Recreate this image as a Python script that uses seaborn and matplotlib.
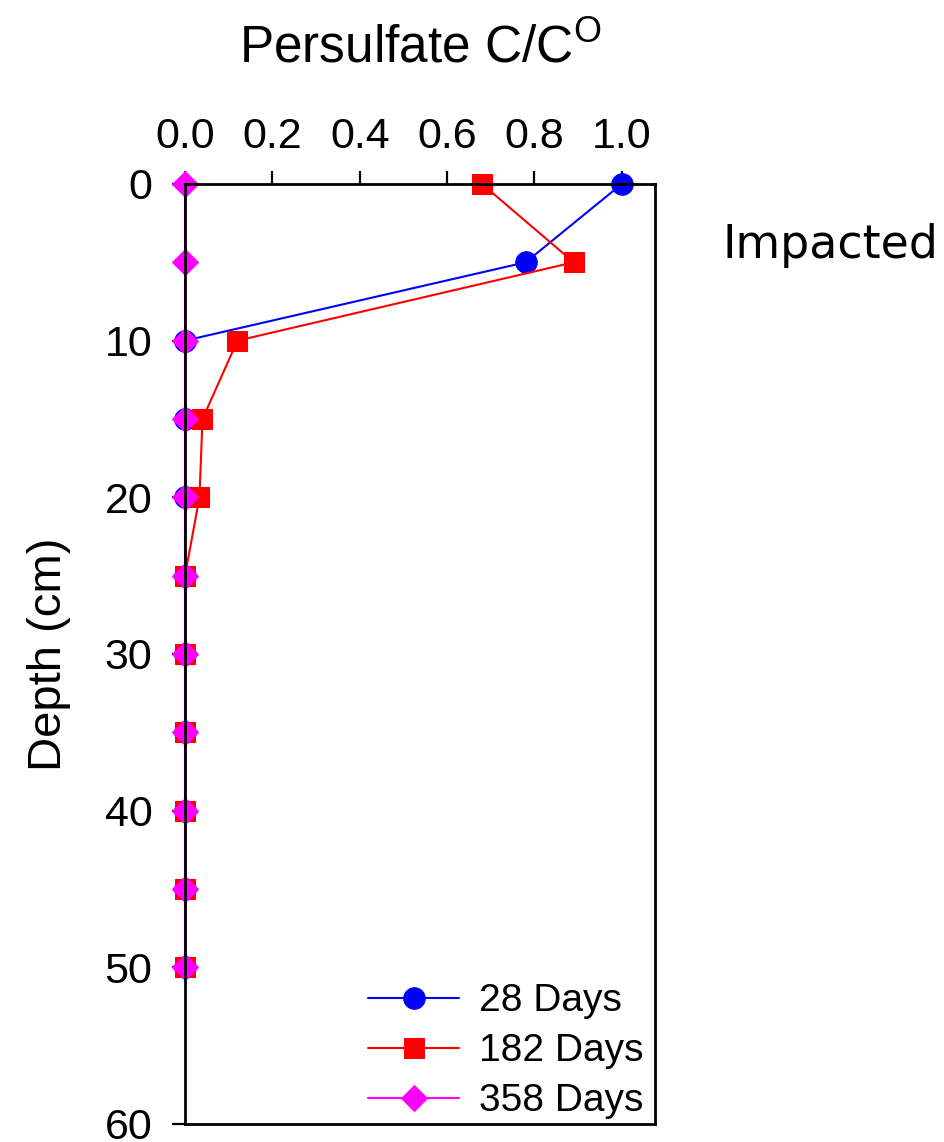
import matplotlib
matplotlib.use("Agg")
import matplotlib.pyplot as plt
import seaborn as sns
import pandas as pd

# depth profile (cm) and persulfate C/Co for each sampling time
depth = [0, 5, 10, 15, 20, 25, 30, 35, 40, 45, 50]
days_28 = [1.00, 0.78, 0.0, 0.0, 0.0, 0.0, 0.0, 0.0, 0.0, 0.0, 0.0]
days_182 = [0.68, 0.89, 0.12, 0.04, 0.033, 0.0, 0.0, 0.0, 0.0, 0.0, 0.0]
days_358 = [0.0, 0.0, 0.0, 0.0, 0.0, 0.0, 0.0, 0.0, 0.0, 0.0, 0.0]

series_names = ["28 Days", "182 Days", "358 Days"]
series_vals = [days_28, days_182, days_358]
colors = ["#0000ff", "#ff0000", "#ff00ff"]
markers = ["o", "s", "D"]
msizes = [15.5, 14.5, 13.5]

sns.set_style("ticks")
plt.rcParams["font.family"] = ["Liberation Sans", "DejaVu Sans"]
plt.rcParams["mathtext.fontset"] = "custom"
plt.rcParams["mathtext.rm"] = "Liberation Sans"
plt.rcParams["text.color"] = "black"
plt.rcParams["axes.labelcolor"] = "black"

fig = plt.figure(figsize=(9.45, 11.42), dpi=100)
ax = fig.add_axes([0.1958, 0.0158, 0.4974, 0.8231])

for name, vals, c, m, ms in zip(series_names, series_vals, colors, markers, msizes):
    df = pd.DataFrame({"depth": depth, "ratio": vals})
    sns.lineplot(data=df, x="ratio", y="depth", orient="y", sort=False,
                 estimator=None, color=c, marker=m, markersize=ms,
                 markeredgecolor=c, linewidth=1.5, label=name, ax=ax,
                 clip_on=False)

ax.set_xlim(0, 1.0763)
ax.set_ylim(60, 0)
ax.set_xticks([0.0, 0.2, 0.4, 0.6, 0.8, 1.0])
ax.set_xticklabels(["0.0", "0.2", "0.4", "0.6", "0.8", "1.0"])
ax.set_yticks([0, 10, 20, 30, 40, 50, 60])

ax.xaxis.tick_top()
ax.xaxis.set_label_position("top")
ax.tick_params(axis="x", direction="out", length=9.5, width=1.6,
               labelsize=31, pad=10, colors="black")
ax.tick_params(axis="y", direction="out", length=9.5, width=1.6,
               labelsize=31, pad=14, colors="black")

for side in ["top", "bottom", "left", "right"]:
    ax.spines[side].set_visible(True)
    ax.spines[side].set_linewidth(2)
    ax.spines[side].set_color("black")

ax.set_xlabel("Persulfate C/C$^\\mathregular{O}$", fontsize=37, labelpad=39)
ax.set_ylabel("Depth (cm)", fontsize=34, labelpad=24)

leg = ax.legend(loc="lower right", bbox_to_anchor=(0.985, 0.0),
                frameon=False, fontsize=28,
                handlelength=2.35, handletextpad=0.5, labelspacing=0.36,
                borderaxespad=0.0, borderpad=0.12)
for txt in leg.get_texts():
    txt.set_color("black")

fig.text(723 / 945, 1 - 258 / 1142, "Impacted", fontsize=33,
         family="DejaVu Sans", ha="left", va="baseline")

fig.savefig("out.png", dpi=100)
